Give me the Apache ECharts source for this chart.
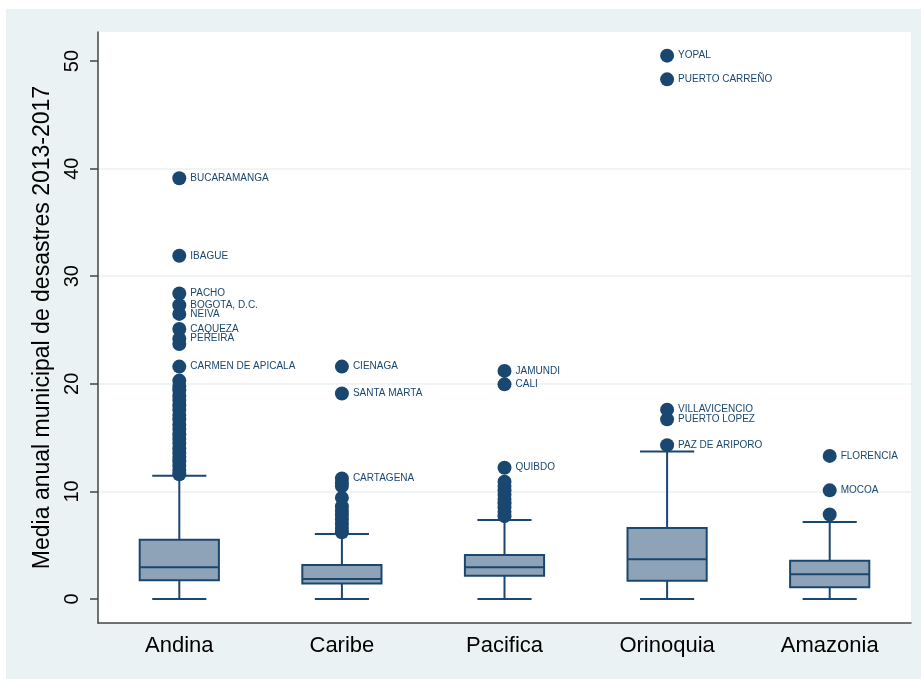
<!DOCTYPE html>
<html>
<head>
<meta charset="utf-8">
<script src="https://cdn.jsdelivr.net/npm/echarts@6/dist/echarts.min.js"></script>
<style>
  html, body { margin: 0; padding: 0; background: #ffffff; }
  #panel { position: absolute; left: 6px; top: 9px; width: 915px; height: 670px; background: #eaf2f3; }
  #chart { position: absolute; left: 0; top: 0; width: 921px; height: 679px; }
</style>
</head>
<body>
<div id="panel"></div>
<div id="chart"></div>
<script>
// Regions and box summary statistics
const regions = ['Andina', 'Caribe', 'Pacifica', 'Orinoquia', 'Amazonia'];
const whiskerLow = [0, 0, 0, 0, 0];
const q1 = [1.75, 1.45, 2.15, 1.7, 1.1];
const median = [2.95, 1.85, 2.95, 3.7, 2.3];
const q3 = [5.5, 3.15, 4.1, 6.6, 3.55];
const whiskerHigh = [11.45, 6.05, 7.35, 13.7, 7.15];

// Outside values without a municipality label
const andinaOutliers = [11.6, 12.0, 12.4, 12.8, 13.2, 13.6, 14.0, 14.5, 14.9, 15.3, 15.8, 16.2, 16.7, 17.1, 17.6, 18.0, 18.5, 18.9, 19.4, 19.8, 20.3, 23.7];
const caribeOutliers = [6.2, 6.6, 7.0, 7.4, 7.8, 8.2, 8.6, 9.4, 10.5, 10.8];
const pacificaOutliers = [7.7, 8.1, 8.5, 8.9, 9.3, 9.7, 10.1, 10.5, 10.9];
const orinoquiaOutliers = [];
const amazoniaOutliers = [7.85];

// Labelled municipalities
const namedRegion = [0, 0, 0, 0, 0, 0, 0, 0, 1, 1, 1, 2, 2, 2, 3, 3, 3, 3, 3, 4, 4];
const namedValue = [39.1, 31.9, 28.4, 27.3, 26.5, 25.1, 24.2, 21.6, 21.6, 19.1, 11.2, 21.2, 19.95, 12.2, 50.5, 48.3, 17.6, 16.7, 14.3, 13.3, 10.1];
const namedLabel = ['BUCARAMANGA', 'IBAGUE', 'PACHO', 'BOGOTA, D.C.', 'NEIVA', 'CAQUEZA', 'PEREIRA', 'CARMEN DE APICALA',
  'CIENAGA', 'SANTA MARTA', 'CARTAGENA',
  'JAMUNDI', 'CALI', 'QUIBDO',
  'YOPAL', 'PUERTO CARREÑO', 'VILLAVICENCIO', 'PUERTO LOPEZ', 'PAZ DE ARIPORO',
  'FLORENCIA', 'MOCOA'];

const yTicks = [0, 10, 20, 30, 40, 50];

const NAVY = '#1a476f';
const BOX_FILL = '#8fa3b8';

const boxData = regions.map((r, i) => [i, whiskerLow[i], q1[i], median[i], q3[i], whiskerHigh[i]]);

const plainPoints = [];
[andinaOutliers, caribeOutliers, pacificaOutliers, orinoquiaOutliers, amazoniaOutliers].forEach((arr, i) => {
  arr.forEach(v => plainPoints.push([i, v]));
});
const namedPoints = namedValue.map((v, k) => ({ value: [namedRegion[k], v], name: namedLabel[k] }));

function renderBox(params, api) {
  const i = api.value(0);
  const band = api.size([1, 0])[0];
  const boxW = band * 0.487;
  const capW = band * 0.333;
  const pLow = api.coord([i, api.value(1)]);
  const pQ1 = api.coord([i, api.value(2)]);
  const pMed = api.coord([i, api.value(3)]);
  const pQ3 = api.coord([i, api.value(4)]);
  const pHigh = api.coord([i, api.value(5)]);
  const x = pLow[0];
  const st = { stroke: NAVY, lineWidth: 2, fill: null };
  return {
    type: 'group',
    children: [
      { type: 'line', shape: { x1: x, y1: pLow[1], x2: x, y2: pQ1[1] }, style: st },
      { type: 'line', shape: { x1: x, y1: pQ3[1], x2: x, y2: pHigh[1] }, style: st },
      { type: 'line', shape: { x1: x - capW / 2, y1: pLow[1], x2: x + capW / 2, y2: pLow[1] }, style: st },
      { type: 'line', shape: { x1: x - capW / 2, y1: pHigh[1], x2: x + capW / 2, y2: pHigh[1] }, style: st },
      { type: 'rect', shape: { x: x - boxW / 2, y: pQ3[1], width: boxW, height: pQ1[1] - pQ3[1] },
        style: { fill: BOX_FILL, stroke: NAVY, lineWidth: 2 } },
      { type: 'line', shape: { x1: x - boxW / 2, y1: pMed[1], x2: x + boxW / 2, y2: pMed[1] }, style: st }
    ]
  };
}

const chart = echarts.init(document.getElementById('chart'), null, { renderer: 'canvas' });
chart.setOption({
  animation: false,
  backgroundColor: 'transparent',
  textStyle: { fontFamily: 'Liberation Sans, Arial, sans-serif' },
  grid: { left: 98, right: 10, top: 32, bottom: 56, show: true, backgroundColor: '#ffffff', borderWidth: 0 },
  xAxis: {
    type: 'category',
    data: regions,
    boundaryGap: true,
    axisLine: { show: true, onZero: false, lineStyle: { color: '#444444', width: 1.5 } },
    axisTick: { show: false },
    axisLabel: { fontSize: 22, color: '#000000', margin: 12 },
    splitLine: { show: false }
  },
  yAxis: {
    type: 'value',
    min: -2.23,
    max: 52.7,
    name: 'Media anual municipal de desastres 2013-2017',
    nameLocation: 'middle',
    nameGap: 37,
    nameRotate: 90,
    nameTextStyle: { fontSize: 23, color: '#000000' },
    axisLine: { show: true, lineStyle: { color: '#444444', width: 1.5 } },
    axisTick: { show: true, customValues: yTicks, length: 8, lineStyle: { color: '#444444', width: 1.5 } },
    axisLabel: { customValues: yTicks, rotate: 90, fontSize: 20, color: '#000000', margin: 16 },
    splitLine: { show: true, showMinLine: false, showMaxLine: false, lineStyle: { color: '#eaf2f3', width: 1.5 } }
  },
  series: [
    {
      type: 'custom',
      z: 2,
      renderItem: renderBox,
      encode: { x: 0, y: [1, 2, 3, 4, 5] },
      data: boxData
    },
    {
      type: 'scatter',
      z: 3,
      symbol: 'circle',
      symbolSize: 14,
      itemStyle: { color: NAVY, opacity: 1 },
      data: plainPoints
    },
    {
      type: 'scatter',
      z: 4,
      symbol: 'circle',
      symbolSize: 14,
      itemStyle: { color: NAVY, opacity: 1 },
      label: {
        show: true,
        position: 'right',
        distance: 4,
        formatter: p => p.name,
        fontSize: 10,
        color: NAVY,
        fontFamily: 'Liberation Sans, Arial, sans-serif'
      },
      data: namedPoints
    }
  ]
});
</script>
</body>
</html>
